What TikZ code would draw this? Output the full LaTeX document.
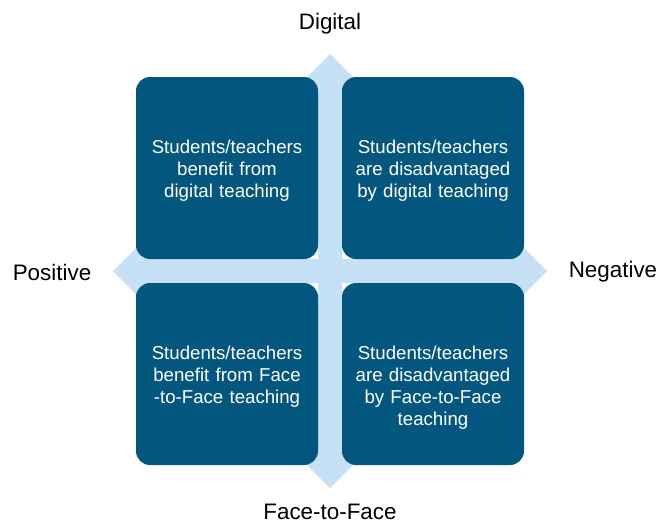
\documentclass[tikz,border=0pt]{standalone}
\usepackage{fontspec}
\setmainfont{Liberation Sans}
\usepackage{tikz}
\usetikzlibrary{positioning, calc}
\definecolor{quadblue}{HTML}{03567E}
\definecolor{crossblue}{HTML}{C6E1F5}

\begin{document}
\begin{tikzpicture}[
      x=0.75pt,y=-0.75pt,
      quad/.style={
        minimum width=136.5pt,
        minimum height=136.5pt,
        inner sep=0pt,
        rounded corners=10.5pt,
        fill=quadblue,
      },
      quadtext/.style={
        anchor=north,
        inner sep=0pt,
        text width=130pt,
        align=center,
        text=white,
        font=\fontsize{14}{16.5}\selectfont,
      },
      axis/.style={
        font=\fontsize{16.8}{20}\selectfont,
      },
      ]
      \useasboundingbox (0,0) rectangle (660,525);
      \coordinate (c) at (330,271);
      % four-way arrow behind the quadrants
      \fill[crossblue] ($(c)+(-12,-177)$) -- ($(c)+(-40,-177)$) -- ($(c)+(0,-217)$)
        -- ($(c)+(40,-177)$) -- ($(c)+(12,-177)$) -- ($(c)+(12,-12)$)
        -- ($(c)+(177,-12)$) -- ($(c)+(177,-40)$) -- ($(c)+(217,0)$)
        -- ($(c)+(177,40)$) -- ($(c)+(177,12)$) -- ($(c)+(12,12)$)
        -- ($(c)+(12,177)$) -- ($(c)+(40,177)$) -- ($(c)+(0,217)$)
        -- ($(c)+(-40,177)$) -- ($(c)+(-12,177)$) -- ($(c)+(-12,12)$)
        -- ($(c)+(-177,12)$) -- ($(c)+(-177,40)$) -- ($(c)+(-217,0)$)
        -- ($(c)+(-177,-40)$) -- ($(c)+(-177,-12)$) -- ($(c)+(-12,-12)$) -- cycle;
      \node[quad] (tl) at (227,168) {};
      \node[quad] (tr) at (433,168) {};
      \node[quad] (bl) at (227,374) {};
      \node[quad] (br) at (433,374) {};
      \node[quadtext,below=47pt of tl.north] (tltext) {Students/teachers\\benefit from\\digital teaching};
      \node[quadtext,below=47pt of tr.north] (trtext) {Students/teachers\\are disadvantaged\\by digital teaching};
      \node[quadtext,below=47pt of bl.north] (bltext) {Students/teachers\\benefit from Face\\-to-Face teaching};
      \node[quadtext,below=47pt of br.north] (brtext) {Students/teachers\\are disadvantaged\\by Face-to-Face\\teaching};
      \node[axis] (digital) at (330,24) {Digital};
      \node[axis] (positive) at (52,272) {Positive};
      \node[axis] (negative) at (613,272) {Negative};
      \node[axis] (f2f) at (330,512) {Face-to-Face};
    \end{tikzpicture}
\end{document}
